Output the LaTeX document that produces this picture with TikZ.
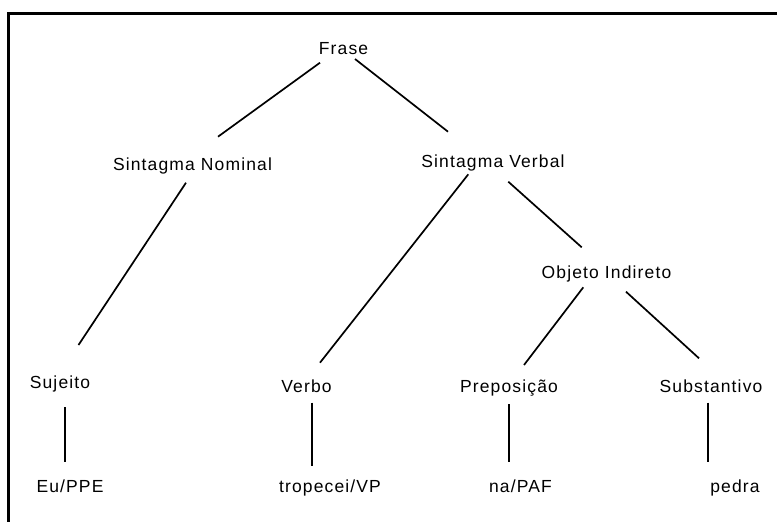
\documentclass[tikz,border=0pt]{standalone}
\usepackage{fontspec}
\setmainfont{Liberation Sans}
\newfontfamily\treefont[LetterSpace=6.5]{Liberation Sans}
\begin{document}
\begin{tikzpicture}[x=1pt,y=-1pt,
        lbl/.style={anchor=base,inner sep=0pt,font=\treefont\fontsize{17.5}{19}\selectfont},
        branch/.style={line width=1.7pt},
        frame/.style={line width=2.4pt}]
        \useasboundingbox (0,0) rectangle (777,522);
        %% Frame (top and left edge only)
        \draw[frame] (8.5,522) |- (777,13.5);
        %% top
        \node[lbl] (frase) at (343.5,54) {Frase};
        %% phrases
        \node[lbl] (sn) at (192.5,170) {Sintagma Nominal};
        \node[lbl] (sv) at (493,167) {Sintagma Verbal};
        \node[lbl] (oi) at (606.5,278) {Objeto Indireto};
        %% categories
        \node[lbl] (suj) at (60,388) {Sujeito};
        \node[lbl] (verbo) at (306.5,392) {Verbo};
        \node[lbl] (prep) at (509,392) {Preposição};
        \node[lbl] (subst) at (711,392) {Substantivo};
        %% words
        \node[lbl] (eu) at (70,492) {Eu/PPE};
        \node[lbl] (trop) at (330,492) {tropecei/VP};
        \node[lbl] (na) at (520.5,492) {na/PAF};
        \node[lbl] (pedra) at (735,492) {pedra};
        %% upper branches
        \draw[branch] ([shift={(-23.5,8.7)}]frase.base) -- ([shift={(25.5,-33.3)}]sn.base);
        \draw[branch] ([shift={(11.5,5)}]frase.base) -- ([shift={(-45,-35.3)}]sv.base);
        %% middle branches
        \draw[branch] ([shift={(-6.5,12.7)}]sn.base) -- ([shift={(18.5,-43)}]suj.base);
        \draw[branch] ([shift={(-24.7,7.3)}]sv.base) -- ([shift={(13.5,-29.3)}]verbo.base);
        \draw[branch] ([shift={(15.3,14.7)}]sv.base) -- ([shift={(-24.8,-30.7)}]oi.base);
        \draw[branch] ([shift={(-23.2,9.3)}]oi.base) -- ([shift={(15,-27)}]prep.base);
        \draw[branch] ([shift={(19.5,13.7)}]oi.base) -- ([shift={(-12,-33.7)}]subst.base);
        %% bottom branches
        \draw[branch] ([shift={(5,19.3)}]suj.base) -- ([shift={(-5,-30.3)}]eu.base);
        \draw[branch] ([shift={(5.2,10.7)}]verbo.base) -- ([shift={(-18.3,-26)}]trop.base);
        \draw[branch] ([shift={(0.3,12)}]prep.base) -- ([shift={(-11.2,-30.3)}]na.base);
        \draw[branch] ([shift={(-3.3,10.7)}]subst.base) -- ([shift={(-27.3,-30.3)}]pedra.base);
\end{tikzpicture}
\end{document}
